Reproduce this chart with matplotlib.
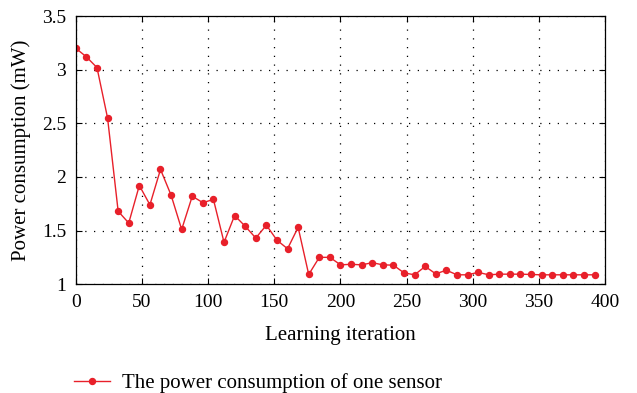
import matplotlib
matplotlib.use('Agg')
import matplotlib.pyplot as plt
from matplotlib.ticker import MultipleLocator

plt.rcParams['font.family'] = ['Liberation Serif', 'DejaVu Serif']

iterations = list(range(0, 400, 8))
power = [3.20, 3.12, 3.02, 2.55, 1.68, 1.57, 1.92, 1.74, 2.07, 1.83,
         1.51, 1.82, 1.76, 1.79, 1.39, 1.64, 1.54, 1.43, 1.55, 1.41,
         1.33, 1.53, 1.09, 1.25, 1.25, 1.18, 1.185, 1.18, 1.20, 1.18,
         1.177, 1.105, 1.087, 1.165, 1.096, 1.13, 1.087, 1.087, 1.11, 1.087,
         1.093, 1.093, 1.093, 1.09, 1.087, 1.087, 1.087, 1.087, 1.087, 1.087]
yticks = [1, 1.5, 2, 2.5, 3, 3.5]
ytick_labels = ['1', '1.5', '2', '2.5', '3', '3.5']

fig = plt.figure(figsize=(6.37, 3.93), dpi=100)
ax = fig.add_axes([0.119, 0.277, 0.831, 0.682])

line, = ax.plot(iterations, power, color='#e8202a', lw=1.0, marker='o',
                markersize=4.3, label='The power consumption of one sensor')

ax.set_xlim(0, 400)
ax.set_ylim(1, 3.5)
ax.xaxis.set_major_locator(MultipleLocator(50))
ax.set_yticks(yticks)
ax.set_yticklabels(ytick_labels)
ax.grid(True, color='black', linestyle=(0, (1, 6)), linewidth=0.9)
ax.tick_params(direction='in', top=True, right=True, labelsize=14, length=4)
ax.tick_params(axis='x', pad=7)
ax.tick_params(axis='y', pad=7)
for s in ax.spines.values():
    s.set_linewidth(0.9)

ax.set_xlabel('Learning iteration', fontsize=15, labelpad=11)
ax.set_ylabel('Power consumption (mW)', fontsize=15, labelpad=8)

fig.legend(handles=[line], loc='center left', bbox_to_anchor=(0.087, 0.025),
           frameon=False, fontsize=15, handlelength=1.7, handletextpad=0.6)

fig.savefig('out.png', dpi=100)
